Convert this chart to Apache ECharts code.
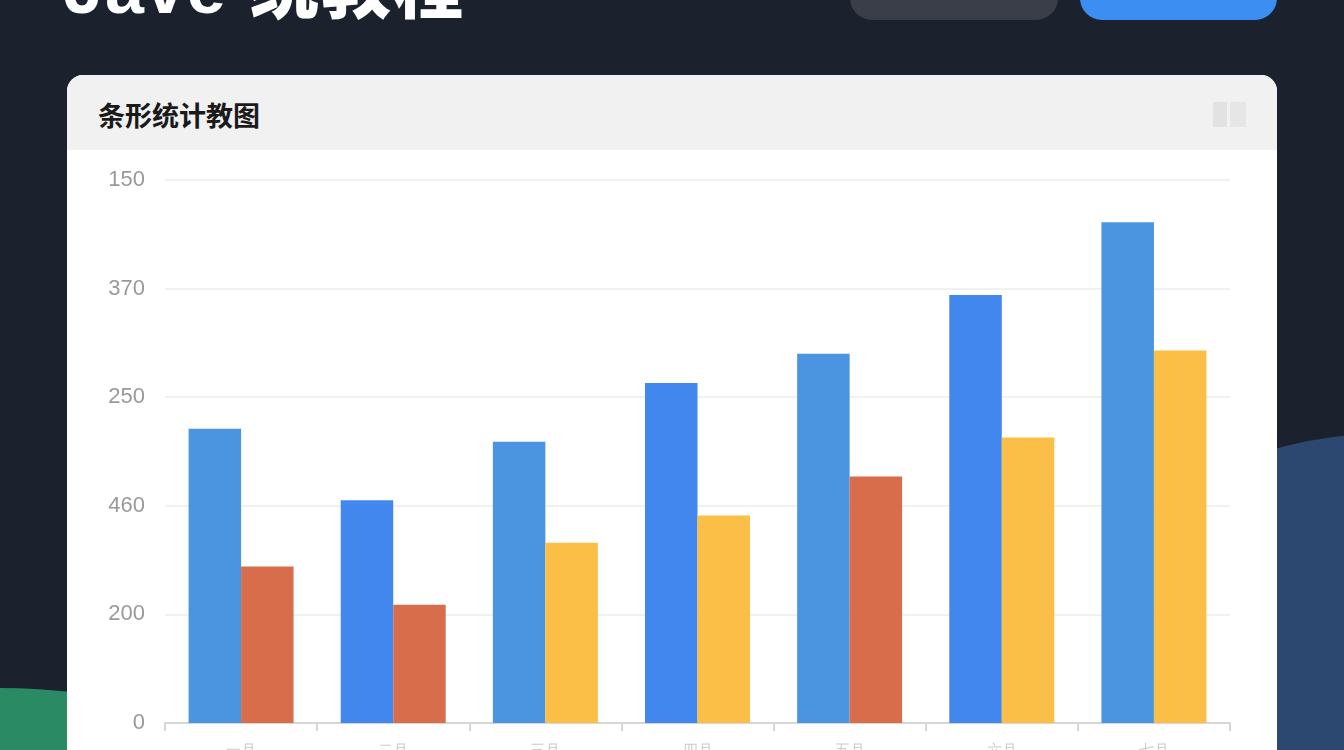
<!DOCTYPE html>
<html>
<head>
<meta charset="utf-8">
<script src="https://cdn.jsdelivr.net/npm/echarts@6/dist/echarts.min.js"></script>
<style>
  html, body { margin:0; padding:0; width:1344px; height:750px; overflow:hidden; background:#1b222e; font-family:"Noto Sans CJK SC","Noto Sans",sans-serif; }
  .blob-r { position:absolute; left:1200px; top:432px; width:420px; height:600px; background:#2c4870; border-radius:50% 0 0 0 / 12% 0 0 0; }
  .blob-g { position:absolute; left:-200px; top:688px; width:400px; height:200px; background:#2a8a63; border-radius:50% 50% 0 0 / 30% 30% 0 0; }
  .title { position:absolute; left:64px; top:-68px; color:#fff; font-size:70px; font-weight:900; letter-spacing:2px; white-space:nowrap; font-family:"Liberation Sans","Noto Sans CJK SC",sans-serif; }
  .pill1 { position:absolute; left:850px; top:-40px; width:208px; height:60px; border-radius:22px; background:#393e49; }
  .pill2 { position:absolute; left:1080px; top:-40px; width:197px; height:60px; border-radius:22px; background:#3d8ef2; }
  .card { position:absolute; left:67px; top:75px; width:1210px; height:720px; background:#fff; border-radius:16px; overflow:hidden; }
  .card-head { position:absolute; left:0; top:0; width:100%; height:75px; background:#f1f1f1; }
  .card-title { position:absolute; left:31px; top:20px; font-size:27px; font-weight:700; color:#1a1a1a; line-height:40px; }
  .icon { position:absolute; left:1146px; top:27px; width:14px; height:25px; background:#e2e2e2; }
  .icon2 { position:absolute; left:1163px; top:27px; width:16px; height:25px; background:#e6e6e6; }
  #chart { position:absolute; left:0; top:0; width:1344px; height:750px; }
</style>
</head>
<body>
<div class="blob-r"></div>
<div class="blob-g"></div>
<div class="title">Jave 统教程</div>
<div class="pill1"></div>
<div class="pill2"></div>
<div class="card">
  <div class="card-head"><div class="card-title">条形统计教图</div><div class="icon"></div><div class="icon2"></div></div>
</div>
<div id="chart"></div>
<script>
const categories = ['一月', '二月', '三月', '四月', '五月', '六月', '七月'];
const tickLabels = ['0', '200', '460', '250', '370', '150'];
const seriesA = [2.71, 2.05, 2.59, 3.13, 3.40, 3.94, 4.61];
const seriesB = [1.44, 1.09, 1.66, 1.91, 2.27, 2.63, 3.43];
const colorsA = ['#4a94e0', '#4287ee', '#4a94e0', '#4287ee', '#4a94e0', '#4287ee', '#4a94e0'];
const colorsB = ['#d86d4c', '#d86d4c', '#fbbf47', '#fbbf47', '#d86d4c', '#fbbf47', '#fbbf47'];

const chart = echarts.init(document.getElementById('chart'), null, { renderer: 'canvas' });
chart.setOption({
  backgroundColor: 'transparent',
  animation: false,
  grid: { left: 165, right: 114, top: 180, bottom: 27, containLabel: false, outerBoundsMode: 'none' },
  xAxis: {
    type: 'category',
    data: categories,
    axisLine: { lineStyle: { color: '#d6d6d6', width: 2 } },
    axisTick: { show: true, length: 8, lineStyle: { color: '#d6d6d6', width: 2 } },
    axisLabel: { color: '#cccccc', fontSize: 15, margin: 20 }
  },
  yAxis: {
    type: 'value',
    min: 0, max: 5, interval: 1,
    axisLine: { show: false },
    axisTick: { show: false },
    splitLine: { lineStyle: { color: '#ececec', width: 1.5 } },
    axisLabel: {
      color: '#999999', fontSize: 22, margin: 20,
      formatter: v => tickLabels[Math.round(v)]
    }
  },
  series: [
    {
      type: 'bar', barGap: '0%', barCategoryGap: '31%',
      data: seriesA.map((v, i) => ({ value: v, itemStyle: { color: colorsA[i] } }))
    },
    {
      type: 'bar', barGap: '0%', barCategoryGap: '31%',
      data: seriesB.map((v, i) => ({ value: v, itemStyle: { color: colorsB[i] } }))
    }
  ]
});
</script>
</body>
</html>
